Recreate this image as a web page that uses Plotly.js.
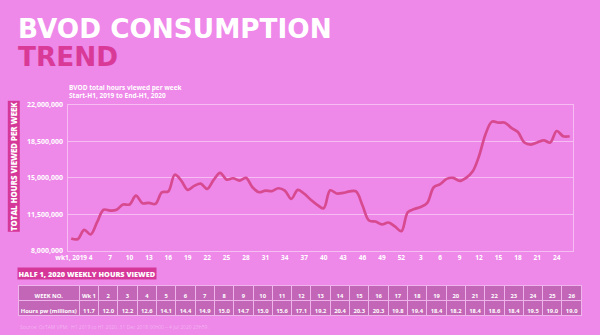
<!DOCTYPE html>
<html>
<head>
<meta charset="utf-8">
<script src="https://cdn.plot.ly/plotly-3.0.1.min.js"></script>
<style>
html,body{margin:0;padding:0;background:#EE88E9;}
#chart{width:600px;height:335px;}
</style>
</head>
<body>
<div id="chart"></div>
<script>
// Weekly BVOD hours (millions) (2019) and table (2020)
const hours2019 = [9.18, 9.11, 10.0, 9.56, 10.74, 11.93, 11.86, 11.93, 12.44, 12.44,
  13.3, 12.56, 12.6, 12.5, 13.6, 13.7, 15.3, 14.74, 13.85, 14.23,
  14.45, 13.94, 14.8, 15.48, 14.83, 14.96, 14.74, 15.0, 14.1, 13.62,
  13.78, 13.72, 14.0, 13.78, 12.98, 13.85, 13.47, 12.9, 12.41, 12.08,
  13.8, 13.5, 13.55, 13.7, 13.7, 12.34, 10.9, 10.8, 10.52, 10.71,
  10.33, 9.88];
const hours2020 = [11.7, 12.0, 12.2, 12.6, 14.1, 14.4, 14.9, 15.0, 14.7, 15.0,
  15.6, 17.1, 19.2, 20.4, 20.3, 20.3, 19.8, 19.4, 18.4, 18.2,
  18.4, 18.6, 18.4, 19.5, 19.0, 19.0];
const tableWeeks = ["Wk\u00a01","2","3","4","5","6","7","8","9","10","11","12","13",
  "14","15","16","17","18","19","20","21","22","23","24","25","26"];
const tickLabels = ["wk1, 2019","4","7","10","13","16","19","22","25","28","31","34",
  "37","40","43","46","49","52","3","6","9","12","15","18","21","24"];
const yTicks = [8000000, 11500000, 15000000, 18500000, 22000000];

const allHours = hours2019.concat(hours2020).map(v => v * 1e6);
const xIdx = allHours.map((_, i) => i);
const tickVals = tickLabels.map((_, i) => i * 3);

const W = 600, H = 335;
const px = v => v / W, py = v => 1 - v / H;

const white = '#FFFFFF';
const hot = '#D6389A';
const bold = {family: 'Open Sans, sans-serif', weight: 700, color: white};

const lineTrace = {
  type: 'scatter', mode: 'lines', x: xIdx, y: allHours,
  line: {color: '#D84A90', width: 2.7, shape: 'spline', smoothing: 1},
  hoverinfo: 'skip', xaxis: 'x', yaxis: 'y'
};

const tableTrace = {
  type: 'table',
  domain: {x: [px(18.3), px(581.7)], y: [py(320), py(285.7)]},
  columnwidth: [61].concat(tableWeeks.map(() => 19.33)),
  header: {
    values: ['WEEK\u00a0NO.'].concat(tableWeeks),
    fill: {color: '#C366B7'},
    line: {color: '#F0B4EC', width: 1},
    font: {family: 'Open Sans, sans-serif', size: 5.8, weight: 700, color: white},
    align: 'center', height: 14.5
  },
  cells: {
    values: [['Hours\u00a0pw\u00a0(millions)']].concat(hours2020.map(v => [v.toFixed(1)])),
    fill: {color: '#C366B7'},
    line: {color: '#F0B4EC', width: 1},
    font: {family: 'Open Sans, sans-serif', size: 5.8, weight: 700, color: white},
    align: 'center', height: 15
  }
};

const layout = {
  width: W, height: H,
  margin: {l: 0, r: 0, t: 0, b: 0},
  paper_bgcolor: '#EE88E9', plot_bgcolor: '#EE88E9',
  showlegend: false,
  xaxis: {
    domain: [px(68.3), px(573.3)],
    range: [-0.45, 77.56],
    tickmode: 'array', tickvals: tickVals, ticktext: tickLabels,
    tickangle: 0,
    showgrid: false, zeroline: false,
    showline: true, mirror: true, linecolor: 'rgba(255,255,255,0.45)', linewidth: 1,
    ticks: '', tickfont: Object.assign({size: 6.5}, bold), fixedrange: true
  },
  yaxis: {
    domain: [py(250.7), py(105)],
    range: [8000000, 22000000],
    tickmode: 'array', tickvals: yTicks,
    tickformat: ',d',
    showgrid: true, gridcolor: 'rgba(255,255,255,0.45)', gridwidth: 1,
    zeroline: false,
    showline: true, mirror: true, linecolor: 'rgba(255,255,255,0.45)', linewidth: 1,
    ticks: '', ticklabelstandoff: 3,
    tickfont: Object.assign({size: 7}, bold), fixedrange: true
  },
  annotations: [
    {text: 'BVOD CONSUMPTION', xref: 'paper', yref: 'paper', x: px(16), y: py(29.5),
     xanchor: 'left', yanchor: 'middle', showarrow: false,
     font: {family: 'DejaVu Sans, sans-serif', size: 26.3, weight: 700, color: white}},
    {text: 'TREND', xref: 'paper', yref: 'paper', x: px(16), y: py(57),
     xanchor: 'left', yanchor: 'middle', showarrow: false,
     font: {family: 'DejaVu Sans, sans-serif', size: 26.3, weight: 700, color: '#D93A98'}},
    {text: 'BVOD total hours viewed per week<br>Start-H1, 2019 to End-H1, 2020',
     xref: 'paper', yref: 'paper', x: px(67), y: py(91), xanchor: 'left', yanchor: 'middle',
     align: 'left', showarrow: false,
     font: Object.assign({size: 6.5}, bold)},
    {text: 'TOTAL HOURS VIEWED PER WEEK', xref: 'paper', yref: 'paper',
     x: px(13.3), y: py(166), xanchor: 'center', yanchor: 'middle', textangle: -90,
     showarrow: false, bgcolor: hot, borderpad: 0.3,
     font: {family: 'Open Sans, sans-serif', size: 7.8, weight: 800, color: white}},
    {text: 'HALF 1, 2020 WEEKLY HOURS VIEWED', xref: 'paper', yref: 'paper',
     x: px(17.3), y: py(273.7), xanchor: 'left', yanchor: 'middle',
     showarrow: false, bgcolor: hot, borderpad: 0.5,
     font: {family: 'Open Sans, sans-serif', size: 7.3, weight: 800, color: white}},
    {text: 'Source: OzTAM VPM:  H1 2019 to H1 2020. 31 Dec 2018 00h00 \u2013 4 Jul 2020 23h59.',
     xref: 'paper', yref: 'paper', x: px(18), y: py(327), xanchor: 'left', yanchor: 'middle',
     showarrow: false,
     font: {family: 'Open Sans, sans-serif', size: 5, color: 'rgba(255,255,255,0.35)'}}
  ]
};

Plotly.newPlot('chart', [lineTrace, tableTrace], layout, {displayModeBar: false, staticPlot: true});
</script>
</body>
</html>
